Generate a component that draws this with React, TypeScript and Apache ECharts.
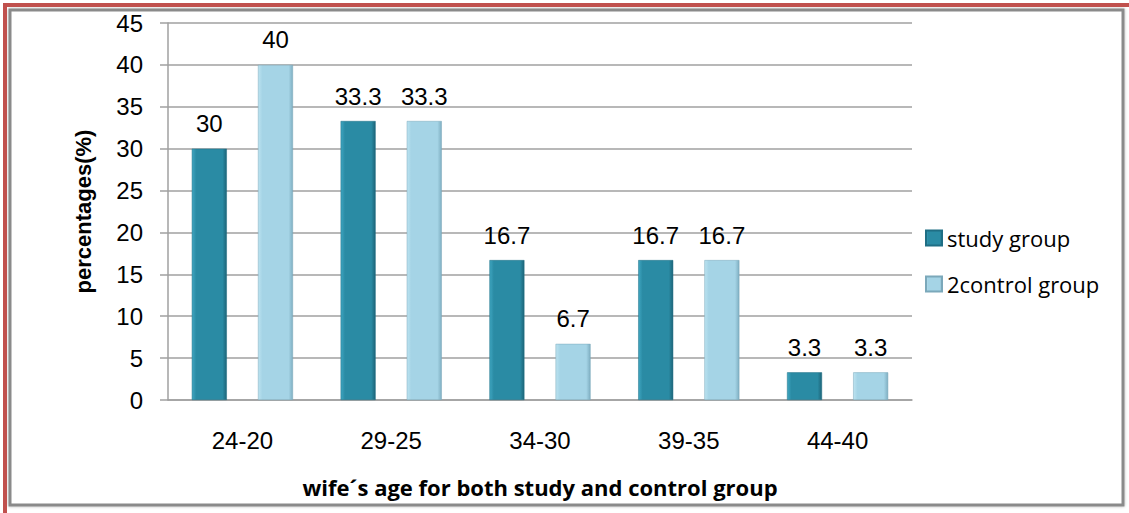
import React, { useEffect, useRef } from "react";
import * as echarts from "echarts";

const categories = ["24-20", "29-25", "34-30", "39-35", "44-40"];
const studyGroup = [30, 33.3, 16.7, 16.7, 3.3];
const controlGroup = [40, 33.3, 6.7, 16.7, 3.3];
const seriesNames = ["study group", "2control group"];
const yTicks = { min: 0, max: 45, interval: 5 };

function grad(light: string, mid: string, dark: string) {
  return new echarts.graphic.LinearGradient(0, 0, 1, 0, [
    { offset: 0, color: light },
    { offset: 0.12, color: mid },
    { offset: 0.88, color: mid },
    { offset: 1, color: dark },
  ]);
}

export default function App() {
  const ref = useRef<HTMLDivElement>(null);
  useEffect(() => {
    document.body.style.margin = "0";
    const chart = echarts.init(ref.current!, null, { renderer: "svg" });
    const labelStyle = {
      show: true,
      position: "top" as const,
      distance: 13,
      fontFamily: "Liberation Sans",
      fontSize: 24,
      color: "#000",
    };
    chart.setOption({
      animation: false,
      backgroundColor: "#fff",
      graphic: [
        {
          type: "rect",
          shape: { x: 5, y: 5, width: 1300, height: 700 },
          style: { fill: "none", stroke: "#C0504D", lineWidth: 4 },
          z: 0,
        },
        {
          type: "rect",
          shape: { x: 10, y: 10, width: 1113, height: 495 },
          style: { fill: "#fff", stroke: "#8a8a8a", lineWidth: 3, shadowBlur: 3, shadowColor: "rgba(0,0,0,0.3)" },
          z: -1,
        },
      ],
      grid: { left: 168, right: 217, top: 23, bottom: 113 },
      legend: {
        orient: "vertical",
        left: 920,
        top: 222,
        itemWidth: 16,
        itemHeight: 15,
        itemGap: 24,
        icon: "rect",
        textStyle: { fontFamily: "Open Sans", fontSize: 22, color: "#000" },
        data: seriesNames,
      },
      xAxis: {
        type: "category",
        data: categories,
        name: "wife´s age for both study and control group",
        nameLocation: "middle",
        nameGap: 76,
        nameTextStyle: { fontFamily: "Open Sans", fontWeight: "bold", fontSize: 22, color: "#000" },
        axisLine: { lineStyle: { color: "#a0a0a0", width: 1.5 } },
        axisTick: { show: false },
        axisLabel: { margin: 28, fontFamily: "Liberation Sans", fontSize: 24, color: "#000" },
      },
      yAxis: {
        type: "value",
        min: yTicks.min,
        max: yTicks.max,
        interval: yTicks.interval,
        name: "percentages(%)",
        nameLocation: "middle",
        nameGap: 74,
        nameTextStyle: { fontFamily: "Liberation Sans", fontWeight: "bold", fontSize: 22, color: "#000" },
        axisLine: { show: true, lineStyle: { color: "#a0a0a0", width: 1.5 } },
        axisTick: { show: true, length: 8, inside: false, lineStyle: { color: "#a0a0a0", width: 1.5 } },
        axisLabel: { margin: 25, fontFamily: "Liberation Sans", fontSize: 24, color: "#000" },
        splitLine: { lineStyle: { color: "#a0a0a0", width: 1.5 } },
      },
      series: [
        {
          name: seriesNames[0],
          type: "bar",
          data: studyGroup,
          barWidth: 35,
          barGap: "89%",
          label: labelStyle,
          itemStyle: {
            color: grad("#3FA6C1", "#2A8BA4", "#1D6478"),
            borderColor: "#1F6E84",
            borderWidth: 0.5,
          },
        },
        {
          name: seriesNames[1],
          type: "bar",
          data: controlGroup,
          barWidth: 35,
          label: labelStyle,
          itemStyle: {
            color: grad("#BCE3F0", "#A5D4E6", "#7FAFC2"),
            borderColor: "#7BA8BA",
            borderWidth: 0.5,
          },
        },
      ],
    });
    return () => chart.dispose();
  }, []);
  return <div ref={ref} style={{ width: 1129, height: 513 }} />;
}
